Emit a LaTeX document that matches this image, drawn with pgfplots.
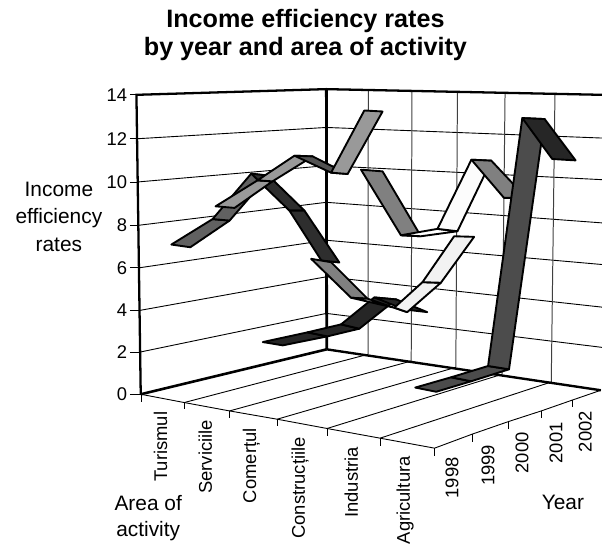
\documentclass[border=0pt]{standalone}
\usepackage{fontspec}
\setmainfont{Liberation Sans}
\usepackage{pgfplots}
\pgfplotsset{compat=1.18}

% the ribbons are 3D-perspective, so everything is read off in picture coordinates
\tikzset{
  rib/.style={draw=black,line width=1.9pt,line join=round,fill=#1},
  gl/.style={draw=black,line width=0.9pt},
  vgl/.style={draw=black!75,line width=1pt},
  wall/.style={draw=black,line width=2.3pt},
  tl/.style={font=\fontsize{18.5}{20}\selectfont,anchor=east,inner sep=0pt},
  rl/.style={font=\fontsize{18.5}{20}\selectfont,rotate=90,anchor=east,inner sep=0pt},
  al/.style={font=\fontsize{21}{24}\selectfont,anchor=base,inner sep=0pt},
  ti/.style={font=\fontsize{25.3}{28}\selectfont\bfseries,anchor=base,inner sep=0pt},
}
\newcommand{\seg}[2]{\addplot[rib=#1] coordinates {#2} --cycle;}
\newcommand{\li}[2]{\addplot[#1] coordinates {#2};}

\begin{document}
\begin{tikzpicture}
\begin{axis}[
    width=603bp, height=545bp, scale only axis,
    xmin=0, xmax=603, ymin=0, ymax=545,
    y dir=reverse,
    hide axis, clip=false,
]
% left wall grid
\li{gl}{(137.5,139)(327,127.7)}
\li{gl}{(138,182.3)(327,166)}
\li{gl}{(139,225.7)(327,202.7)}
\li{gl}{(139.5,268.3)(327,240.7)}
\li{gl}{(140,311)(327,277.3)}
\li{gl}{(140.5,352.7)(327,314)}
% right wall grid
\li{gl}{(327,127.7)(603,138.3)}
\li{gl}{(327,166)(603,180)}
\li{gl}{(327,202.7)(603,223.3)}
\li{gl}{(327,240.7)(603,265)}
\li{gl}{(327,277.3)(603,307.7)}
\li{gl}{(327,314)(603,348)}
\li{vgl}{(369,91)(368.7,355)}
\li{vgl}{(412.7,92)(412,361.7)}
\li{vgl}{(458.3,93)(456.7,368)}
\li{vgl}{(506,94)(503,375)}
\li{vgl}{(556,95)(552.3,382.7)}
% floor lines and front edges
\li{gl}{(184.6,403.3)(368.7,355)}
\li{gl}{(230,411.7)(412,361.7)}
\li{gl}{(277.7,420)(456.7,368)}
\li{gl}{(327.7,429.3)(503,375)}
\li{gl}{(380.8,439)(552.3,382.7)}
\li{gl}{(141,395)(184.6,403.3)(230,411.7)(277.7,420)(327.7,429.3)(380.8,439)(435.4,449)(473,435)(509.6,422.3)(542.3,411.7)(573.8,400.7)(602,391)}
% ticks
\li{gl}{(130,95)(137,95)}
\li{gl}{(130,139)(138,139)}
\li{gl}{(130,182.3)(138,182.3)}
\li{gl}{(130,225.7)(139,225.7)}
\li{gl}{(130,268.3)(139,268.3)}
\li{gl}{(130,311)(140,311)}
\li{gl}{(130,352.7)(140,352.7)}
\li{gl}{(130,395)(141,395)}
\li{gl}{(141.5,395)(141.5,403)}
\li{gl}{(184.6,403.3)(184.6,410)}
\li{gl}{(230,411.7)(230,418.5)}
\li{gl}{(277.7,420)(277.7,427)}
\li{gl}{(327.7,429.3)(327.7,436.5)}
\li{gl}{(380.8,439)(380.8,446.5)}
\li{gl}{(435.4,449)(435.4,456.5)}
\li{gl}{(473,435)(473,442.5)}
\li{gl}{(509.6,422.3)(509.6,430)}
\li{gl}{(542.3,411.7)(542.3,419)}
\li{gl}{(573.8,400.7)(573.8,408)}
% walls
\li{wall}{(141,395)(136.7,95)(326.7,89.3)(603,95)}
\li{wall,line width=2.8pt}{(327,89.3)(327.3,350)}
\li{wall,line width=2.6pt}{(141,395)(327.3,350)}
\li{wall,line width=2.4pt}{(327.3,350)(602,391)}

% Turismul
\seg{black!62}{(171.7,245)(190.7,247.7)(230,221)(213,219.5)}
\seg{black!62}{(213,219.5)(230,221)(269,176)(251.7,174)}
\seg{black!82}{(251.7,174)(269,176)(305,211)(290,211)}
\seg{black!82}{(290,211)(305,211)(340,263)(322,261)}
% Constructiile
\seg{black!85}{(263.3,342.7)(283.3,346)(328,337)(308,333)}
\seg{black!85}{(308,333)(328,337)(360,329.3)(341.7,325)}
\seg{black!85}{(341.7,325)(360,329.3)(397,300)(375,298)}
\seg{black!85}{(375,298)(397,300)(428,312.7)(405,310)}
% Serviciile
\seg{black!40}{(216,206.7)(235,208.3)(273,181.7)(258,180.7)}
\seg{black!40}{(258,180.7)(273,181.7)(313.3,156.7)(295,156)}
\seg{black!68}{(295,156)(313.3,156.7)(348.3,174.3)(331.7,173)}
\seg{black!40}{(331.7,173)(348.3,174.3)(383.3,111.7)(365,110.7)}
% Comertul
\seg{black!50}{(311.7,259.3)(331.7,262.7)(368.3,299.3)(351.7,298.3)}
\seg{black!25}{(351.7,298.3)(368.3,299.3)(408,312.7)(395,308.3)}
\seg{black!5}{(395,308.3)(408,312.7)(441.7,283.3)(423.3,282.7)}
\seg{black!5}{(423.3,282.7)(441.7,283.3)(475,237.3)(455,236.7)}
% Industria
\seg{black!50}{(361.7,170)(383.3,171.7)(421.7,236.7)(401.7,235.7)}
\seg{white}{(401.7,235.7)(421.7,236.7)(458.3,231.7)(438.3,229.3)}
\seg{black!1}{(438.3,229.3)(458.3,231.7)(492.3,161)(472.3,160)}
\seg{black!50}{(472.3,160)(492.3,161)(527,198)(505,198.3)}
% Agricultura
\seg{black!70}{(416,388.3)(437,392.5)(472,382)(452,378)}
\seg{black!70}{(452,378)(472,382)(510,370)(489,366.7)}
\seg{black!70}{(489,366.7)(510,370)(545.7,119.3)(523.3,118.3)}
\seg{black!85}{(523.3,118.3)(545.7,119.3)(576.7,160.7)(553.3,159.3)}

% text
\node[ti] at (axis cs:306,28) {Income efficiency rates};
\node[ti] at (axis cs:306,56) {by year and area of activity};
\node[al] at (axis cs:59,197) {Income};
\node[al] at (axis cs:59,224) {efficiency};
\node[al] at (axis cs:59,251.5) {rates};
\node[al] at (axis cs:148.5,511.5) {Area of};
\node[al] at (axis cs:148.5,538) {activity};
\node[al] at (axis cs:564,510) {Year};
\node[tl] at (axis cs:127.5,95) {14};
\node[tl] at (axis cs:127.5,139) {12};
\node[tl] at (axis cs:127.5,182.3) {10};
\node[tl] at (axis cs:127.5,225.7) {8};
\node[tl] at (axis cs:127.5,268.3) {6};
\node[tl] at (axis cs:127.5,311) {4};
\node[tl] at (axis cs:127.5,352.7) {2};
\node[tl] at (axis cs:127.5,395) {0};
\node[rl] at (axis cs:160.8,412.3) {Turismul};
\node[rl] at (axis cs:205.8,420.7) {Serviciile};
\node[rl] at (axis cs:252,429) {Comerțul};
\node[rl] at (axis cs:300.8,438) {Construcțiile};
\node[rl] at (axis cs:352,447.7) {Industria};
\node[rl] at (axis cs:405.8,457) {Agricultura};
\node[rl] at (axis cs:453,458) {1998};
\node[rl] at (axis cs:489,445.7) {1999};
\node[rl] at (axis cs:523,433) {2000};
\node[rl] at (axis cs:557,423) {2001};
\node[rl] at (axis cs:586.5,411.7) {2002};
\path[use as bounding box] (axis cs:0,0) rectangle (axis cs:603,545);
\end{axis}
\end{tikzpicture}
\end{document}
